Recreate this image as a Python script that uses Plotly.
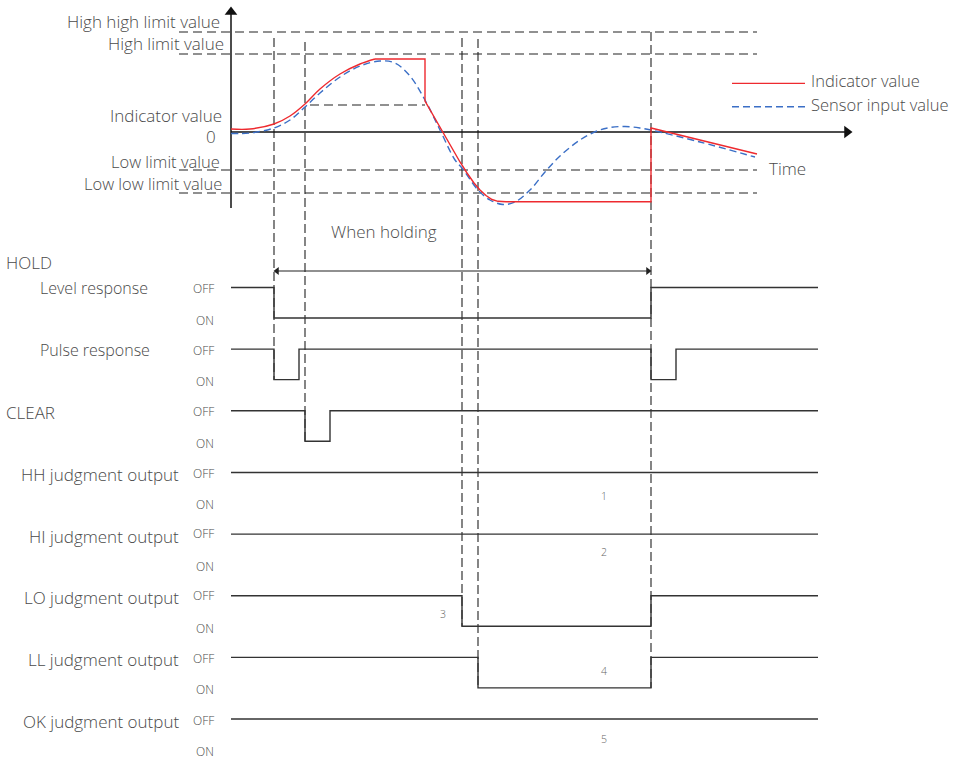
import plotly.graph_objects as go

# ---------------- data ----------------
# top chart: time (t) vs value (v); t=0 at value axis, v=0 at time axis
limit_labels = ["High high limit value", "High limit value", "Low limit value", "Low low limit value"]
limit_values = [100, 78, -38, -61]
held_value = 27          # indicator value held at CLEAR time

sensor_t = [0, 19, 43, 59, 74, 89, 109, 129, 149, 164, 179, 194, 209, 224, 231, 247, 259, 272,
            284, 299, 314, 329, 349, 366, 379, 394, 409, 420, 469, 524]
sensor_v = [-1.5, -1, 4, 12, 25, 39, 55, 66, 71, 69, 56, 32, 2, -28, -36, -58, -68, -72.5,
            -70, -58, -40, -24, -8, 1, 4.5, 5.5, 4, 2, -10, -25]

ind_rise_t = [0, 19, 43, 59, 74, 89, 109, 129, 144]
ind_rise_v = [3, 3, 8, 16, 28, 43, 58, 68, 73]
ind_hold_t = [144, 194, 194, 211, 229, 236, 243, 249, 255, 261, 267, 275, 420, 420, 526]
ind_hold_v = [73, 73, 31, 1, -30, -41, -51, -58, -63.5, -67.5, -69.3, -69.7, -69.7, 4, -22]

# timing events (same time units)
t_start, t_end = 0, 587
hold_on, hold_off = 43, 420
pulse_width = 25
clear_on, clear_off = 74, 99
lo_on, ll_on = 231, 247

signal_names = ["Level response", "Pulse response", "CLEAR", "HH judgment output",
                "HI judgment output", "LO judgment output", "LL judgment output", "OK judgment output"]
signal_t = [
    [t_start, hold_on, hold_off, t_end],
    [t_start, hold_on, hold_on + pulse_width, hold_off, hold_off + pulse_width, t_end],
    [t_start, clear_on, clear_off, t_end],
    [t_start, t_end],
    [t_start, t_end],
    [t_start, lo_on, hold_off, t_end],
    [t_start, ll_on, hold_off, t_end],
    [t_start, t_end],
]
signal_s = [  # 0 = OFF, 1 = ON
    [0, 1, 0, 0],
    [0, 1, 0, 1, 0, 0],
    [0, 1, 0, 0],
    [0, 0],
    [0, 0],
    [0, 1, 0, 0],
    [0, 1, 0, 0],
    [0, 0],
]
marker_numbers = ["1", "2", "3", "4", "5"]

# ---------------- layout helpers ----------------
W, H = 961, 761
X0 = 231            # pixel x of t=0
Y0 = 132            # pixel y of v=0
ROW0, ROW_STEP, ON_DROP = 287.5, 61.65, 30.5
FONT = "Open Sans, Noto Sans, sans-serif"
TXT = "#4a4a4a"
DASH_K = "#222222"

def row_y(i, s=0):
    return ROW0 + i * ROW_STEP + s * ON_DROP

fig = go.Figure()

def line(x, y, color, width=1.2, dash="solid", yaxis="y", shape="linear"):
    fig.add_trace(go.Scatter(x=x, y=y, mode="lines", yaxis=yaxis, hoverinfo="skip",
                             line=dict(color=color, width=width, dash=dash, shape=shape)))

def text(t, y, s, size=17, anchor="left", color=TXT):
    fig.add_annotation(x=t, y=y, xref="x", yref="y", text=s, showarrow=False,
                       xanchor=anchor, yanchor="middle", borderpad=0,
                       font=dict(family=FONT, size=size, color=color, weight=300))

# reference limit lines
for v in limit_values:
    line([-52, 526], [v, v], DASH_K, 1.1, "9px,5px", yaxis="y2")
# held indicator value line
line([79, 194], [held_value, held_value], DASH_K, 1.1, "9px,5px", yaxis="y2")

# vertical event markers (dashed)
vlines = [(hold_on, 38, row_y(1, 1)), (clear_on, 42, row_y(2, 1)), (lo_on, 38, row_y(5, 1)),
          (ll_on, 39, row_y(6, 1)), (hold_off, 32, row_y(6, 1))]
for t, top, bot in vlines:
    line([t, t], [top, bot], DASH_K, 1.1, "9px,4px")

# axes of top chart
line([0, 0], [-76, 118], "#111111", 1.5, yaxis="y2")
line([0, 614], [0, 0], "#111111", 1.5, yaxis="y2")
fig.add_trace(go.Scatter(x=[0], y=[Y0 - 120], mode="markers", hoverinfo="skip",
                         marker=dict(symbol="triangle-up", size=11, color="#111111")))
fig.add_trace(go.Scatter(x=[616], y=[Y0], mode="markers", hoverinfo="skip",
                         marker=dict(symbol="triangle-right", size=11, color="#111111")))

# curves
line(sensor_t, sensor_v, "#3b6fc6", 1.4, "7px,4px", yaxis="y2", shape="spline")
line(ind_rise_t, ind_rise_v, "#ee2a2f", 1.4, yaxis="y2", shape="spline")
line(ind_hold_t, ind_hold_v, "#ee2a2f", 1.4, yaxis="y2")

# legend
line([501, 574], [48.7, 48.7], "#ee2a2f", 1.3, yaxis="y2")
line([501, 574], [25.3, 25.3], "#3b6fc6", 1.4, "7px,4px", yaxis="y2")
text(579, 80.7, "Indicator value", size=16.5)
text(579, 104.5, "Sensor input value", size=16.5)
text(537, 168, "Time")

# value labels
text(-10, 21.5, limit_labels[0], anchor="right")
text(-6, 43.5, limit_labels[1], anchor="right")
text(-8, 115, "Indicator value", anchor="right")
text(-14, 136.5, "0", anchor="right")
text(-10, 161.5, limit_labels[2], anchor="right", size=16.5)
text(-8, 183.5, limit_labels[3], anchor="right", size=16.5)

# holding span
text(153, 231.5, "When holding", anchor="center")
line([hold_on + 3, hold_off - 3], [271, 271], "#222222", 1.2)
fig.add_trace(go.Scatter(x=[hold_on + 3, hold_off - 3], y=[271, 271], mode="markers", hoverinfo="skip",
                         marker=dict(symbol=["triangle-left", "triangle-right"], size=7, color="#222222")))

# signals
off_raise = [0, 0, 0, 0, -1.5, -1.5, 0, 0]
for i, (ts, ss) in enumerate(zip(signal_t, signal_s)):
    line(ts, [row_y(i, s) for s in ss], "#333333", 1.4, shape="hv")
    text(-16, row_y(i) + 1 + off_raise[i], "OFF", size=12, anchor="right")
    text(-16, row_y(i, 1) + 2, "ON", size=12, anchor="right")

text(-226, 262.7, "HOLD")
text(-192, row_y(0) + 0.5, signal_names[0], size=16)
text(-192, row_y(1) + 0.5, signal_names[1], size=16)
text(-226, row_y(2) + 2, signal_names[2])
for i in range(3, 8):
    text(-51, row_y(i) + 2, signal_names[i], anchor="right")

# numbered notes
text(373, row_y(3) + 24, marker_numbers[0], size=10.5, anchor="center", color="#666666")
text(373, row_y(4) + 18, marker_numbers[1], size=10.5, anchor="center", color="#666666")
text(212, row_y(5) + 18, marker_numbers[2], size=10.5, anchor="center", color="#666666")
text(373, row_y(6) + 14, marker_numbers[3], size=10.5, anchor="center", color="#666666")
text(373, row_y(7) + 20, marker_numbers[4], size=10.5, anchor="center", color="#666666")

fig.update_layout(
    width=W, height=H, margin=dict(l=0, r=0, t=0, b=0),
    paper_bgcolor="white", plot_bgcolor="white", showlegend=False,
    xaxis=dict(range=[-X0, W - X0], visible=False, fixedrange=True),
    yaxis=dict(range=[H, 0], visible=False, fixedrange=True),
    yaxis2=dict(range=[Y0 - H, Y0], visible=False, overlaying="y", fixedrange=True),
)

fig.write_html("out.html", config={"displayModeBar": False},
               post_script="document.body.style.margin='0';document.body.style.overflow='hidden';")
